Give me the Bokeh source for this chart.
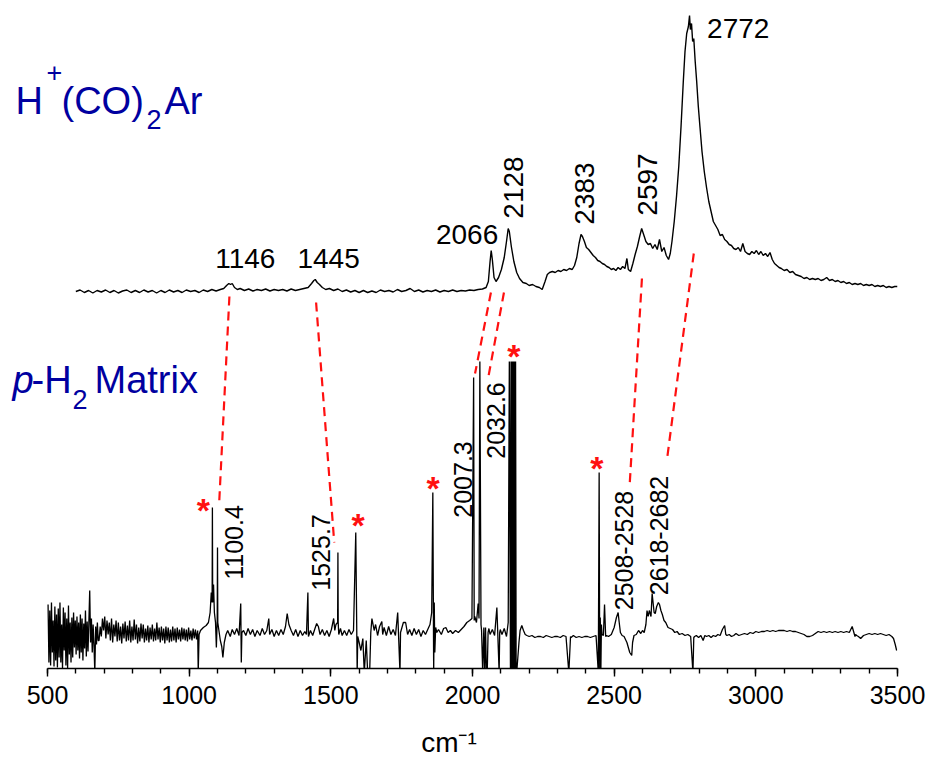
import numpy as np
from bokeh.plotting import figure
from bokeh.models import Range1d, SingleIntervalTicker
from bokeh.core.properties import value
from bokeh.embed import file_html
from bokeh.resources import INLINE

# ---------------- data (wavenumber cm-1, intensity a.u. relative to each baseline) -------------
# upper trace: H+(CO)2Ar photodissociation spectrum
TOP_X = [600, 615, 630, 645, 660, 675, 690, 705, 720, 735, 750, 765, 780, 795, 810, 825, 840, 855, 870, 885,
         900, 915, 930, 945, 960, 975, 990, 1005, 1020, 1035, 1050, 1065, 1080, 1095, 1110, 1122, 1132, 1140,
         1146, 1152, 1160, 1170, 1180, 1195, 1210, 1225, 1240, 1255, 1270, 1285, 1300, 1315, 1330, 1345, 1360,
         1375, 1390, 1405, 1420, 1432, 1440, 1445, 1452, 1460, 1470, 1482, 1495, 1510, 1525, 1540, 1555, 1570,
         1585, 1600, 1615, 1630, 1645, 1660, 1675, 1690, 1705, 1720, 1735, 1750, 1765, 1780, 1795, 1810, 1825,
         1840, 1855, 1870, 1885, 1900, 1915, 1930, 1945, 1960, 1975, 1990, 2005, 2020, 2035, 2048, 2056, 2062,
         2066, 2070, 2076, 2083, 2092, 2102, 2112, 2120, 2126, 2130, 2137, 2146, 2156, 2166, 2178, 2190, 2200,
         2212, 2224, 2236, 2246, 2256, 2264, 2272, 2282, 2292, 2302, 2312, 2322, 2332, 2342, 2352, 2360, 2368,
         2376, 2383, 2388, 2395, 2402, 2410, 2418, 2426, 2434, 2442, 2450, 2458, 2466, 2474, 2482, 2490, 2498,
         2506, 2514, 2522, 2530, 2538, 2545, 2550, 2558, 2566, 2574, 2582, 2590, 2597, 2604, 2612, 2620, 2628,
         2636, 2644, 2652, 2660, 2668, 2676, 2684, 2692, 2698, 2704, 2712, 2720, 2728, 2736, 2744, 2750, 2756,
         2762, 2766, 2769, 2773, 2777, 2781, 2786, 2791, 2797, 2803, 2810, 2818, 2826, 2834, 2842, 2850, 2858,
         2866, 2874, 2882, 2890, 2898, 2906, 2914, 2922, 2930, 2938, 2946, 2954, 2962, 2970, 2978, 2986, 2994,
         3002, 3010, 3018, 3026, 3034, 3042, 3050, 3058, 3066, 3074, 3082, 3090, 3100, 3110, 3120, 3130, 3140,
         3150, 3160, 3170, 3180, 3190, 3200, 3210, 3220, 3230, 3240, 3250, 3260, 3270, 3280, 3290, 3300, 3310,
         3320, 3330, 3340, 3350, 3360, 3370, 3380, 3390, 3400, 3410, 3420, 3430, 3440, 3450, 3460, 3470, 3480,
         3490, 3500]
TOP_Y = [0, 1.5, -1, 1, -1.5, 1, -0.5, 1.5, -1, 1, -1.5, 0.5, 1.5, -1, 1, -1, 1.5, -0.5, 1, -1.5,
         1, -1, 1.5, -0.5, 1, -1, 1.5, 0, 1, -1, 1.5, 0, 2, 0.5, 2, 3, 6, 8,
         7, 8, 4, 2, 3, 1, 2.5, 0.5, 2, 1, 2.5, 0.5, 2, 1, 2, 0.5, 2.5,
         1, 2, 3, 4, 8, 11, 12, 9, 7, 4, 2, 3, 1, 2.5, 0, 1.5, -0.5,
         1, -1, 1, -1, 0.5, -1, 1.5, 0, 1, -0.5, 2, 0, 1, 3, 0, 1.5, -0.5,
         1, 0, 1.5, -0.5, 1, 0, 1.5, 0, 1, 0.5, 1.5, 1, 2, 2.5, 4, 10, 30,
         41, 32, 14, 10, 14, 22, 34, 50, 63, 60, 45, 30, 19, 13, 9, 8, 6,
         7, 5, 4, 2, 10, 17, 19, 20, 19, 21, 20, 22, 21, 23, 22, 26, 34,
         48, 57, 55, 50, 44, 42, 39, 36, 34, 31, 30, 28, 27, 25, 24, 22, 23,
         21, 24, 22, 25, 23, 33, 22, 20, 28, 37, 45, 55, 63, 57, 50, 47, 48,
         43, 47, 42, 52, 40, 44, 36, 32, 38, 50, 70, 95, 125, 165, 210, 240, 258,
         265, 276, 262, 268, 250, 253, 230, 211, 185, 164, 140, 120, 104, 90, 80, 70, 66,
         62, 56, 57, 52, 50, 47, 46, 43, 42, 44, 40, 48, 40, 38, 37, 40, 38,
         41, 37, 40, 36, 38, 35, 39, 32, 28, 26, 24, 23, 21, 22, 19, 20, 17,
         16, 15, 13, 14, 12, 13, 12, 13, 11, 12, 14, 11, 12, 10, 11, 9, 10,
         8, 9, 7, 8, 7, 8, 6, 7, 6, 7, 5, 6, 5, 6, 4, 5, 4,
         5, 5]

# lower trace: p-H2 matrix spectrum
BOT_X = [502, 505, 508, 511, 514, 517, 520, 523, 526, 529, 532, 535, 538, 541, 544, 547, 550, 553, 556, 559,
         562, 565, 568, 571, 574, 577, 580, 583, 586, 589, 592, 595, 598, 601, 604, 607, 610, 613, 616, 619,
         622, 625, 628, 631, 634, 637, 640, 643, 646, 649, 652, 655, 658, 661, 664, 667, 670, 673, 676, 679,
         682, 686, 690, 694, 698, 702, 706, 710, 714, 718, 722, 726, 730, 734, 738, 742, 746, 750, 754, 758,
         762, 766, 770, 774, 778, 782, 786, 790, 794, 798, 802, 806, 810, 814, 818, 822, 826, 830, 834, 838,
         842, 846, 850, 854, 858, 862, 866, 870, 874, 878, 882, 886, 890, 894, 898, 902, 906, 910, 914, 918,
         922, 926, 930, 934, 938, 942, 946, 950, 954, 958, 962, 966, 970, 974, 978, 982, 986, 990, 994, 998,
         1002, 1006, 1010, 1014, 1018, 1022, 1026, 1030,
         1032, 1035, 1040, 1050, 1060, 1068, 1074, 1078, 1081, 1082, 1083, 1086, 1089, 1093, 1096, 1099, 1100,
         1101, 1105, 1110, 1115, 1119, 1124, 1130,
         1136, 1145, 1152, 1160, 1168, 1176, 1182, 1184, 1186, 1192, 1200, 1208, 1216, 1224, 1232, 1240, 1250,
         1258, 1266, 1274, 1281, 1284, 1292, 1300, 1308, 1316, 1324, 1332, 1340, 1346, 1352, 1360, 1368, 1376,
         1384, 1392, 1400, 1408, 1414, 1419, 1421, 1428, 1436, 1444, 1450, 1456, 1462, 1470, 1478, 1486, 1494,
         1502, 1510, 1514, 1518, 1524, 1525, 1526, 1528, 1534, 1540, 1548, 1556, 1564, 1572, 1580, 1588,
         1593, 1595, 1600, 1606, 1613, 1618, 1625, 1630, 1637, 1641, 1645, 1653, 1658, 1665, 1672, 1680, 1683,
         1688, 1696, 1704, 1712, 1720, 1728, 1736, 1744, 1746, 1749, 1756, 1764, 1771, 1778, 1786, 1794, 1802,
         1810, 1818, 1826, 1834, 1842, 1850, 1856, 1860, 1863, 1865, 1867, 1870, 1874, 1880, 1890, 1898, 1906,
         1914, 1922, 1930, 1940, 1950, 1960, 1970, 1980, 1990, 1998, 2004, 2006, 2008, 2014, 2020, 2023, 2026,
         2030, 2032, 2036, 2040, 2043, 2046, 2049, 2052, 2055, 2058, 2062, 2070, 2078, 2086, 2094, 2096, 2098,
         2104, 2112, 2120, 2126, 2130, 2134, 2136, 2138, 2140, 2142, 2144, 2146, 2148, 2150, 2152, 2154, 2156,
         2160, 2164, 2168, 2174, 2180, 2186, 2192,
         2200, 2210, 2220, 2230, 2240, 2250, 2260, 2270, 2280, 2290, 2300, 2310, 2320, 2330, 2340, 2346, 2348,
         2356, 2366, 2376, 2386, 2396, 2406, 2416, 2426, 2436, 2444, 2447, 2449, 2451, 2453, 2455, 2457, 2462,
         2466, 2470, 2473, 2480, 2490, 2500, 2508, 2514, 2517, 2522, 2528, 2535, 2545, 2555, 2562, 2565, 2570,
         2578, 2586, 2594, 2600, 2606, 2612, 2616, 2620, 2624, 2630, 2634, 2641, 2645, 2650, 2656, 2660, 2665,
         2670, 2676, 2682, 2690, 2698, 2706, 2714, 2722, 2730, 2740, 2750, 2760, 2770, 2778, 2781, 2784, 2790,
         2798, 2806, 2814, 2820, 2826, 2834, 2842, 2850, 2858, 2866, 2874, 2882, 2890, 2894, 2898, 2906, 2914,
         2922, 2930, 2940, 2950, 2960, 2970, 2980, 2990, 3000, 3010, 3020, 3030, 3040, 3050, 3060, 3070, 3080,
         3090, 3100, 3110, 3120, 3130, 3140, 3150, 3160, 3170, 3180, 3190, 3200, 3210, 3220, 3230, 3240, 3250,
         3260, 3270, 3280, 3290, 3300, 3310, 3320, 3330, 3340, 3350, 3352, 3356, 3362, 3370, 3380, 3390, 3400,
         3410, 3420, 3430, 3440, 3450, 3460, 3470, 3480, 3486, 3492, 3497, 3499]
BOT_Y = [28, -30, 22, -33, 30, -20, 12, -34, 26, -28, 18, -35, 24, -25, 30, -30, 8, -36, 25, -18,
         20, -33, 14, -36, 27, -22, 10, -30, 15, -25, 20, -15, 12, -22, 16, -18, 10, -26, 18, -20,
         14, -28, 9, -16, 22, -24, 11, -19, 10, 42, -10, 14, -20, 8, -12, -40, 6, -12, 10, -8,
         -8, 6, -4, 14, 2, 16, -6, 12, -2, 10, -8, 14, -10, 8, -4, 12, -9, 10, -8, 6,
         -11, 9, -6, 11, -9, 7, -8, 12, -10, 6, -8, 13, -7, 8, -11, 5, -9, 9, -6, 8,
         -10, 4, -8, 7, -10, 5, -7, 8, -9, 4, -8, 10, -7, 5, -10, 6, -8, 4, -11, 6,
         -8, 5, -10, 3, -9, 6, -8, 4, -10, 5, -7, 3, -9, 5, -7, 4, -8, 3, -9, 5,
         -7, 2, -8, 4, -6, 3, -7, 2,
         -40, -2, 2, 5, 7, 10, 20, 40, 30, 125, 30, 48, 20, 10, -15, 12, 85,
         10, 2, -8, -14, -25, -10, -2,
         2, -4, 3, -2, 4, -3, 29, -30, 0, 2, -3, 4, -2, 3, -4, 2, -3,
         4, -2, 2, 14, -2, 3, -4, 2, -3, 3, -2, 6, 19, 8, 2, -3, 3,
         -4, 2, -3, 1, -2, 40, -4, 2, -3, 4, 9, 6, -2, 3, -3, 2, -4,
         3, 14, 2, 8, 10, 80, 10, -2, 4, -3, 2, -3, 3, -2, 2,
         100, -40, -4, -10, -18, -6, -40, -8, -40, -40, 0, 14, 2, 8, -3, 6, 11,
         -2, 5, -3, 6, -2, 3, -3, 20, -40, 0, 3, 10, 10, -2, 3, -3, 4,
         -2, 3, -4, 2, -2, 3, 8, 20, 140, -40, 30, -20, 5, 0, 3, -2, 4,
         5, 0, 2, -1, 2, 0, 3, 6, 10, 12, 14, 255, 12, 16, 10, 29, 14,
         271, 8, 2, -40, 5, -40, 5, -40, -40, 0, 4, -2, 3, -3, 25, -40, 0,
         3, -2, 4, -4, 10, 271, -40, 271, -40, 271, -40, 271, -40, 271, -40, 271, -40,
         -40, -25, -10, 2, 7, 2, -2,
         -3, -4, -3, -5, -4, -4, -5, -3, -4, -5, -4, -4, -5, -3, -4, -40, -4,
         -5, -3, -5, -4, -5, -4, -4, -5, -4, -3, -40, 160, -40, 15, -40, 8, -2,
         -3, 28, -4, -3, -4, -2, 5, 15, 20, 12, 0, -3, -4, -10, -20, -23, -10,
         -3, -2, 2, -1, 2, 0, 8, 22, 16, 22, 16, 39, 20, 19, 26, 30, 28,
         22, 18, 12, 10, 5, 4, 3, 0, 1, -2, -1, -3, -2, -4, -40, -5, -4,
         -3, -5, -3, -8, -3, -4, -3, -5, -3, -4, -2, -3, 3, 7, -2, -3, -2,
         -4, -3, -1, -3, -2, -1, -2, 0, -1, 1, 0, 1, 1, 2, 1, 2, 1,
         2, 2, 2, 1, 2, 1, 1, 0, -1, -2, -4, -4, -3, -1, 1, 0, 1,
         0, 1, 0, 1, 0, 1, 0, 1, 0, 6, -4, -2, -3, -4, -6, -3, -2,
         -1, -2, -1, -2, -1, -2, -3, -2, -4, -6, -12, -18]

# vertical offsets of the two stacked traces (plot units)
TOP_OFFSET = 377
BOT_OFFSET = 36

# peak annotations of the upper trace
TOP_LAB = ["1146", "1445", "2066", "2772"]
TOP_LAB_X = [1198, 1492, 1981, 2938]
TOP_LAB_Y = [410, 410, 434, 640]
TOP_ROT_LAB = ["2128", "2383", "2597"]
TOP_ROT_X = [2143, 2397, 2619]
TOP_ROT_Y = [481, 475, 484]

# peak annotations of the lower trace (rotated)
BOT_LAB = ["1100.4", "1525.7", "2007.3", "2032.6", "2508-2528", "2618-2682"]
BOT_LAB_X = [1159, 1466, 1965, 2082, 2535, 2658]
BOT_LAB_Y = [126, 116, 189, 248, 118, 133]

# red asterisks (matrix impurity lines)
STAR_X = [1050, 1596, 1861, 2146, 2439]
STAR_Y = [159, 144, 181, 313, 201]

# red dashed correlation lines (upper peak -> matrix peak)
CONN_X0 = [1142, 1448, 2065, 2111, 2598, 2781]
CONN_Y0 = [372, 366, 376, 376, 390, 415]
CONN_X1 = [1106, 1512, 2009, 2055, 2555, 2686]
CONN_Y1 = [166, 126, 295, 290, 185, 208]

# trace titles, split into pieces for super/subscripts
TITLE_TEXT = ["H", "+", "(CO)", "2", "Ar", "p", "-H", "2", "Matrix"]

# ---------------- figure ----------------
FONT = "Liberation Sans"
BLUE = "#0000A0"
AXIS_LO, AXIS_HI = 500, 3500
PX_LEFT_OF_AXIS = 47          # frame starts at the page edge; axis begins 47 px in
FRAME_W = 897
FRAME_H = 660
X_LO = AXIS_HI - (AXIS_HI - AXIS_LO) * FRAME_W / (FRAME_W - PX_LEFT_OF_AXIS)
UNIT_PER_PX = (AXIS_HI - X_LO) / FRAME_W

p = figure(width=930, height=760, output_backend="svg", toolbar_location=None,
           x_range=Range1d(X_LO, AXIS_HI), y_range=Range1d(0, FRAME_H),
           y_axis_location=None, min_border_left=0, min_border_right=930 - FRAME_W,
           min_border_top=8, min_border_bottom=760 - 8 - FRAME_H,
           background_fill_color="white", border_fill_color="white")
p.grid.visible = False
p.outline_line_color = None

ax = p.xaxis[0]
ax.bounds = (AXIS_LO, AXIS_HI)
ax.ticker = SingleIntervalTicker(interval=500, num_minor_ticks=5)
ax.axis_line_width = 1.6
ax.axis_line_color = "black"
ax.major_tick_line_width = 1.4
ax.minor_tick_line_width = 1.4
ax.major_tick_out = 8
ax.major_tick_in = 0
ax.minor_tick_out = 5
ax.minor_tick_in = 0
ax.major_label_text_font = FONT
ax.major_label_text_font_size = "25px"
ax.major_label_text_color = "black"
ax.major_label_standoff = 9
ax.axis_label = "cm\u207b\u00b9"
ax.axis_label_text_font = FONT
ax.axis_label_text_font_size = "28px"
ax.axis_label_text_font_style = "normal"
ax.axis_label_text_color = "black"
ax.axis_label_standoff = 20

# spectra
p.line(TOP_X, np.array(TOP_Y) + TOP_OFFSET, line_color="black", line_width=1.4)
p.line(BOT_X, np.array(BOT_Y) + BOT_OFFSET, line_color="black", line_width=1.3)

# dashed correlation lines
p.segment(CONN_X0, CONN_Y0, CONN_X1, CONN_Y1, line_color="#FF1010", line_width=2.2, line_dash="9 6")

# annotations
p.text(TOP_LAB_X, TOP_LAB_Y, text=TOP_LAB, text_font=value(FONT), text_font_size="28px",
       text_align="center", text_baseline="middle", text_color="black")
p.text(TOP_ROT_X, TOP_ROT_Y, text=TOP_ROT_LAB, angle=np.pi / 2, text_font=value(FONT),
       text_font_size="28px", text_align="center", text_baseline="middle", text_color="black")
p.text(BOT_LAB_X, BOT_LAB_Y, text=BOT_LAB, angle=np.pi / 2, text_font=value(FONT),
       text_font_size="25px", text_align="center", text_baseline="middle", text_color="black")
p.text(STAR_X, STAR_Y, text=["*"] * len(STAR_X), text_font=value(FONT), text_font_size="34px",
       text_font_style="bold", text_align="center", text_baseline="middle", text_color="#FF1010")

# trace titles: left edge and vertical centre (page px) of each piece
TITLE_PX = [15, 46, 61, 146, 164, 12, 31, 72, 94]
TITLE_PY = [100, 72, 100, 119, 100, 379, 379, 399, 379]
TITLE_SIZE = ["38px", "27px", "38px", "27px", "38px", "38px", "38px", "27px", "38px"]
TITLE_STYLE = ["normal"] * 5 + ["italic", "normal", "normal", "normal"]
title_x = [X_LO + px * UNIT_PER_PX for px in TITLE_PX]
title_y = [(FRAME_H + 8) - py for py in TITLE_PY]
p.text(x=title_x, y=title_y, text=TITLE_TEXT, text_font=value(FONT), text_font_size=TITLE_SIZE,
       text_font_style=TITLE_STYLE, text_align="left", text_baseline="middle", text_color=BLUE)

open("out.html", "w").write(file_html(p, INLINE))
